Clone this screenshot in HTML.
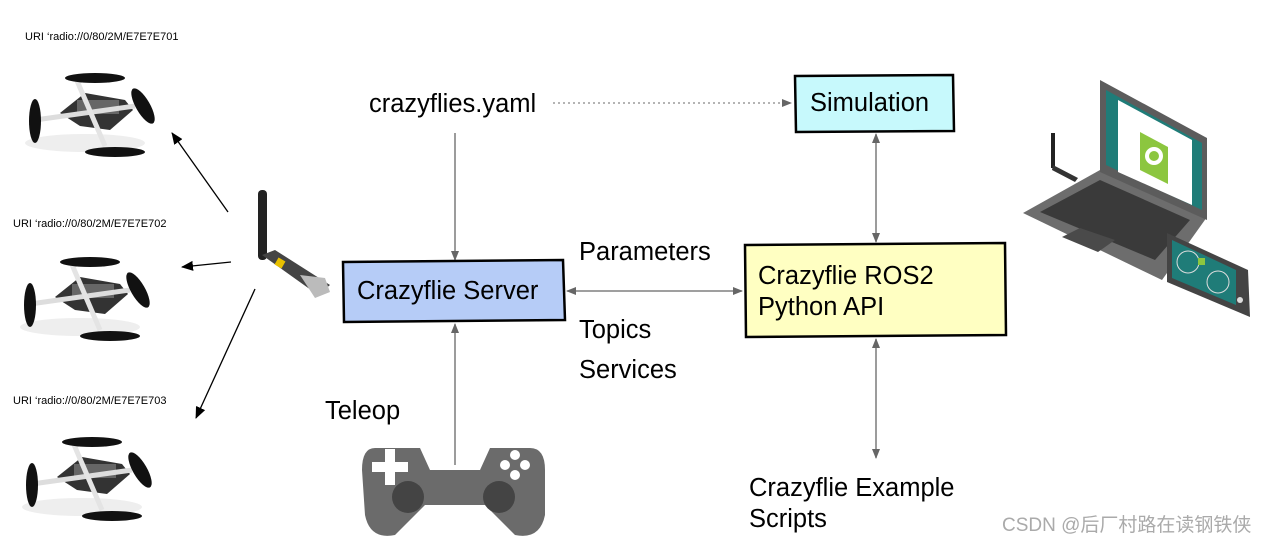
<!DOCTYPE html>
<html><head><meta charset="utf-8"><style>
html,body{margin:0;padding:0;background:#fff;width:1267px;height:544px;overflow:hidden}
svg{display:block}
text{font-family:"Liberation Sans",Arial,sans-serif}
</style></head><body>
<svg width="1267" height="544" viewBox="0 0 1267 544" xmlns="http://www.w3.org/2000/svg">
<defs>
<marker id="ag" markerWidth="10" markerHeight="10" refX="9" refY="5" orient="auto-start-reverse" markerUnits="userSpaceOnUse"><path d="M0,1 L10,5 L0,9 z" fill="#666"/></marker>
<marker id="ab" markerWidth="12" markerHeight="12" refX="11" refY="6" orient="auto" markerUnits="userSpaceOnUse"><path d="M0,1 L12,6 L0,11 z" fill="#000"/></marker>
<g id="drone">
<ellipse cx="70" cy="95" rx="60" ry="9" fill="#eee"/>
<path d="M45 65 L70 45 L110 52 L118 62 L95 82 L65 78 z" fill="#333"/>
<rect x="62" y="52" width="42" height="14" fill="#666"/>
<line x1="20" y1="72" x2="120" y2="58" stroke="#ddd" stroke-width="5"/>
<line x1="60" y1="28" x2="90" y2="98" stroke="#e4e4e4" stroke-width="5"/>
<ellipse cx="80" cy="30" rx="30" ry="5" fill="#111"/>
<ellipse cx="20" cy="73" rx="6" ry="22" fill="#111"/>
<ellipse cx="128" cy="58" rx="7" ry="20" fill="#111" transform="rotate(-30 128 58)"/>
<ellipse cx="100" cy="104" rx="30" ry="5" fill="#111"/>
</g>
</defs>

<!-- drones -->
<text x="25" y="40" font-size="11">URI  ‘radio://0/80/2M/E7E7E701</text>
<use href="#drone" x="15" y="48"/>
<text x="13" y="227" font-size="11">URI  ‘radio://0/80/2M/E7E7E702</text>
<use href="#drone" x="10" y="232"/>
<text x="13" y="404" font-size="11">URI  ‘radio://0/80/2M/E7E7E703</text>
<use href="#drone" x="12" y="412"/>

<!-- dongle -->
<rect x="258" y="190" width="9" height="70" rx="4" fill="#222"/>
<path d="M262 255 L275 250 L330 285 L318 295 z" fill="#444"/>
<rect x="276" y="259" width="8" height="8" fill="#e8c000" transform="rotate(30 280 263)"/>
<path d="M300 275 L325 278 L330 292 L315 298 z" fill="#bbb"/>

<!-- black arrows -->
<line x1="228" y1="212" x2="172" y2="133" stroke="#000" stroke-width="1.3" marker-end="url(#ab)"/>
<line x1="231" y1="262" x2="182" y2="267" stroke="#000" stroke-width="1.3" marker-end="url(#ab)"/>
<line x1="255" y1="289" x2="196" y2="418" stroke="#000" stroke-width="1.3" marker-end="url(#ab)"/>

<!-- yaml -->
<text x="369" y="112" font-size="25.5">crazyflies.yaml</text>
<line x1="553" y1="103" x2="791" y2="103" stroke="#888" stroke-width="1.3" stroke-dasharray="2,3" marker-end="url(#ag)"/>
<line x1="455" y1="133" x2="455" y2="260" stroke="#666" stroke-width="1.3" marker-end="url(#ag)"/>

<!-- Simulation -->
<path d="M795 76 L953 75 L954 131 L796 132 z" fill="#c7f9fc" stroke="#000" stroke-width="2.5"/>
<text x="810" y="111" font-size="25.5">Simulation</text>

<!-- Server -->
<path d="M343 262 L563 260 L565 320 L344 322 z" fill="#b6ccf7" stroke="#000" stroke-width="2.5"/>
<text x="357" y="299" font-size="25.5">Crazyflie Server</text>

<!-- ROS2 box -->
<path d="M745 245 L1005 243 L1006 335 L746 337 z" fill="#ffffc2" stroke="#000" stroke-width="2.5"/>
<text x="758" y="284" font-size="25.5">Crazyflie ROS2</text>
<text x="758" y="315" font-size="25.5">Python API</text>

<!-- gray connectors -->
<line x1="567" y1="291" x2="742" y2="291" stroke="#666" stroke-width="1.3" marker-start="url(#ag)" marker-end="url(#ag)"/>
<line x1="876" y1="134" x2="876" y2="242" stroke="#666" stroke-width="1.3" marker-start="url(#ag)" marker-end="url(#ag)"/>
<line x1="876" y1="339" x2="876" y2="458" stroke="#666" stroke-width="1.3" marker-start="url(#ag)" marker-end="url(#ag)"/>
<line x1="455" y1="465" x2="455" y2="324" stroke="#666" stroke-width="1.3" marker-end="url(#ag)"/>

<text x="579" y="260" font-size="25.5">Parameters</text>
<text x="579" y="338" font-size="25.5">Topics</text>
<text x="579" y="378" font-size="25.5">Services</text>
<text x="325" y="419" font-size="25.5">Teleop</text>
<text x="749" y="496" font-size="25.5">Crazyflie Example</text>
<text x="749" y="527" font-size="25.5">Scripts</text>

<!-- gamepad -->
<path d="M375 448 Q362 448 362 470 L365 515 Q370 540 395 535 L425 505 L485 505 L515 535 Q540 540 545 515 L545 470 Q545 448 530 448 L490 448 L480 470 L430 470 L420 448 z" fill="#6b6b6b"/>
<rect x="372" y="462" width="36" height="10" fill="#fff"/>
<rect x="385" y="449" width="10" height="36" fill="#fff"/>
<circle cx="408" cy="497" r="16" fill="#444"/>
<circle cx="499" cy="497" r="16" fill="#444"/>
<circle cx="515" cy="455" r="5" fill="#fff"/><circle cx="505" cy="465" r="5" fill="#fff"/><circle cx="525" cy="465" r="5" fill="#fff"/><circle cx="515" cy="475" r="5" fill="#fff"/>

<!-- laptop -->
<path d="M1023 213 L1100 170 L1207 217 L1162 280 z" fill="#6d6d6d"/>
<path d="M1040 212 L1100 180 L1190 220 L1155 260 z" fill="#3a3a3a"/>
<path d="M1062 237 L1080 228 L1115 240 L1098 252 z" fill="#4a4a4a"/>
<path d="M1100 80 L1207 138 L1207 220 L1100 172 z" fill="#5c5c5c"/>
<path d="M1106 90 L1202 143 L1202 210 L1106 165 z" fill="#1f7c78"/>
<path d="M1118 100 L1192 140 L1192 205 L1118 172 z" fill="#fff"/>
<path d="M1140 132 L1168 147 L1168 184 L1140 170 z" fill="#8cc63f"/>
<circle cx="1154" cy="156" r="7" fill="none" stroke="#fff" stroke-width="4"/>
<rect x="1051" y="133" width="4" height="35" fill="#222"/>
<path d="M1053 165 L1078 178 L1075 182 L1052 170 z" fill="#333"/>
<!-- phone -->
<path d="M1167 233 L1248 270 L1250 317 L1167 282 z" fill="#444"/>
<path d="M1172 240 L1236 270 L1236 305 L1172 278 z" fill="#1f7c78"/>
<circle cx="1188" cy="262" r="11" fill="none" stroke="#ddd" stroke-width="1"/>
<circle cx="1218" cy="282" r="11" fill="none" stroke="#ddd" stroke-width="1"/>
<rect x="1198" y="258" width="7" height="7" fill="#8cc63f"/>
<circle cx="1240" cy="300" r="3" fill="#ddd"/>

<text x="1002" y="531" font-size="19" fill="#aaa" font-family="Liberation Sans,'Noto Sans CJK SC',sans-serif">CSDN @后厂村路在读钢铁侠</text>
</svg>
</body></html>
